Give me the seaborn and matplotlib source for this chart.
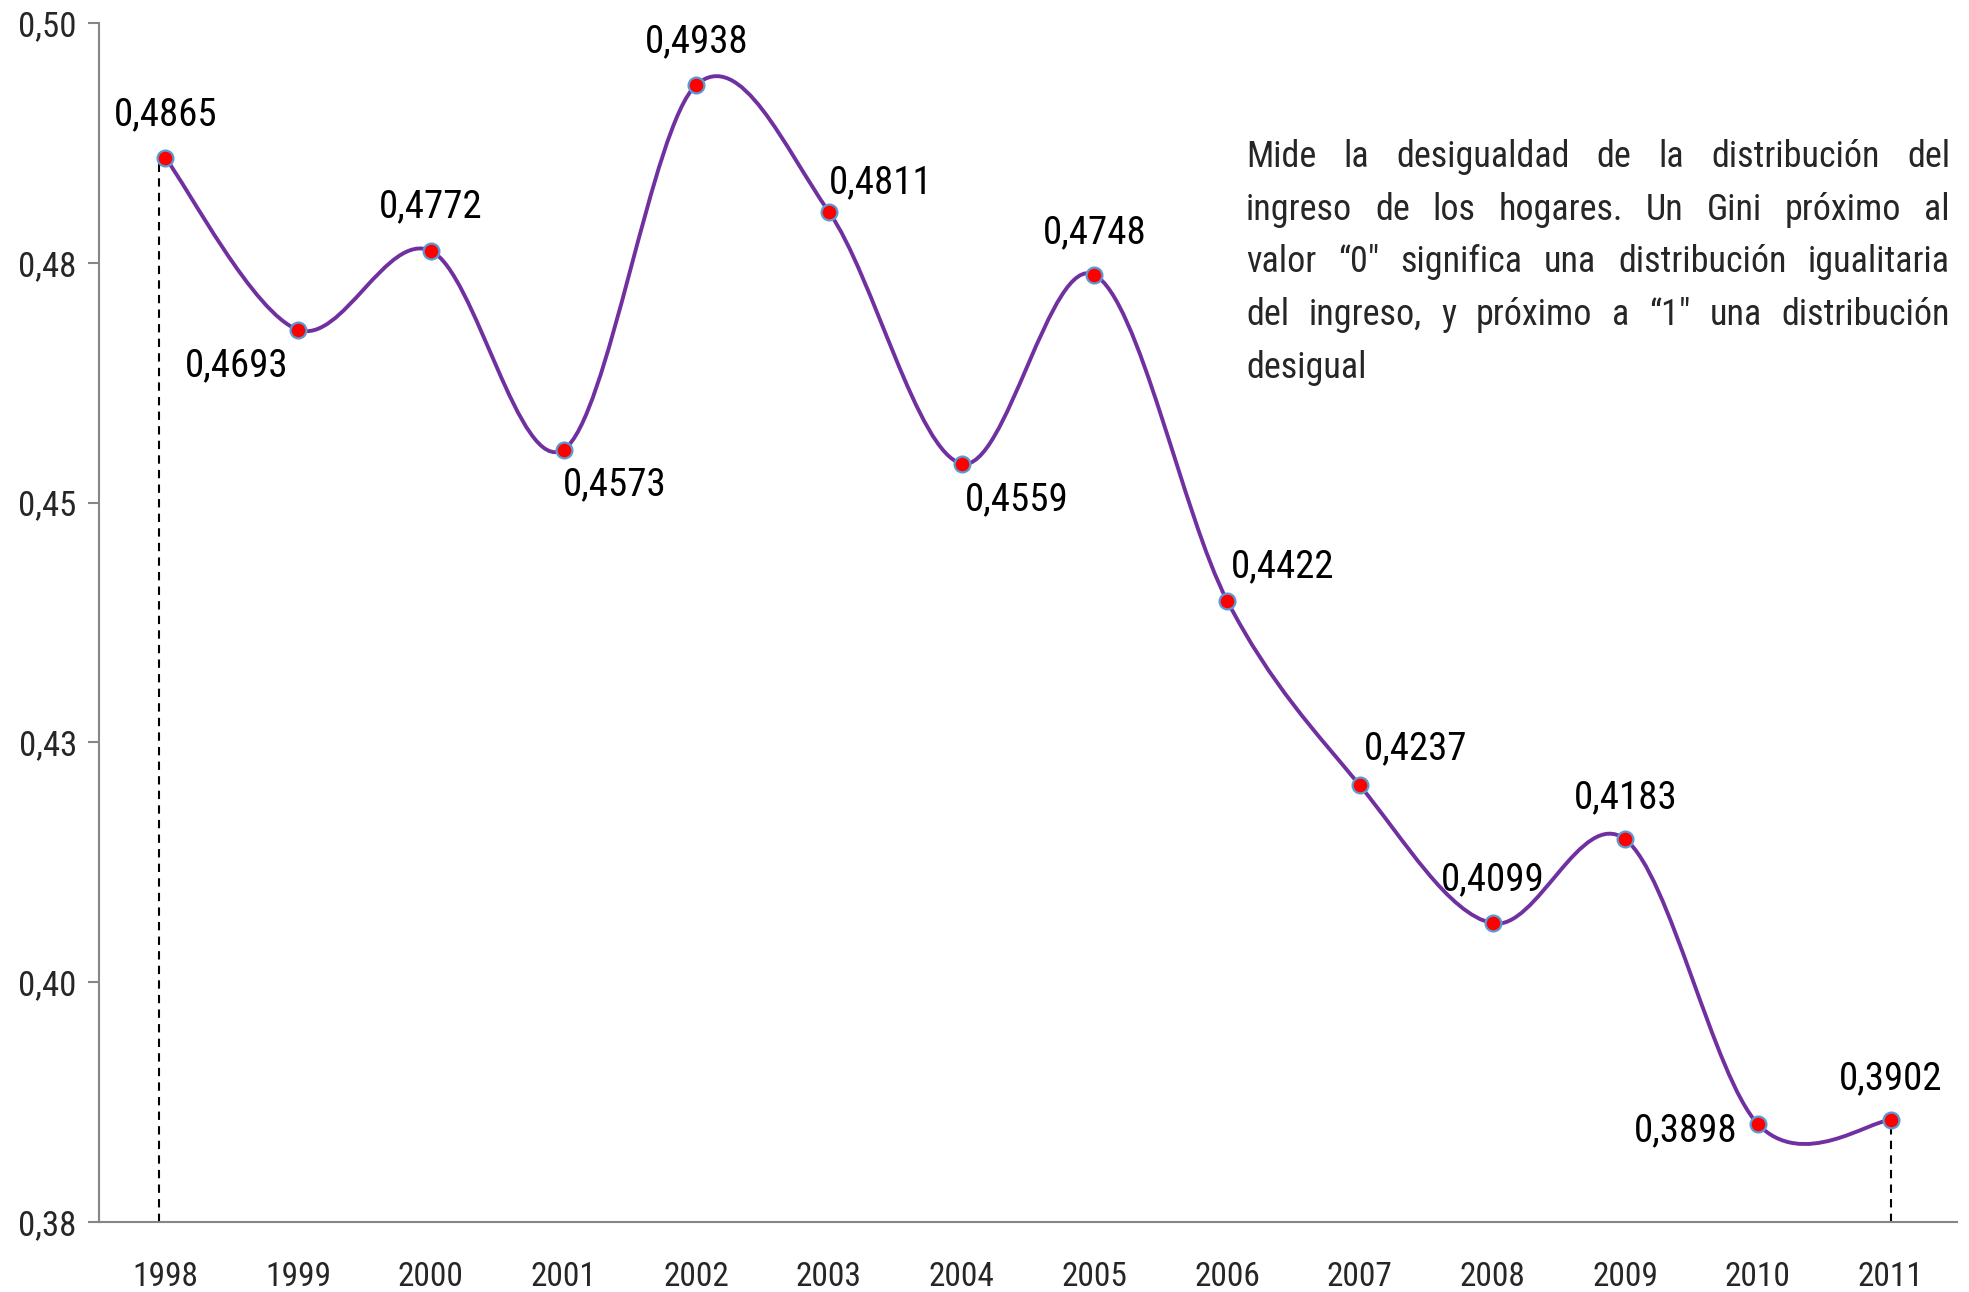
import numpy as np
import matplotlib
matplotlib.use('Agg')
import matplotlib.pyplot as plt
from matplotlib.path import Path
from matplotlib.patches import PathPatch
import seaborn as sns

# Coeficiente de Gini por año
years = ['1998', '1999', '2000', '2001', '2002', '2003', '2004',
         '2005', '2006', '2007', '2008', '2009', '2010', '2011']
gini = [0.4865, 0.4693, 0.4772, 0.4573, 0.4938, 0.4811, 0.4559,
        0.4748, 0.4422, 0.4237, 0.4099, 0.4183, 0.3898, 0.3902]
labels = [f"{v:.4f}".replace('.', ',') for v in gini]

# where each value label sits relative to its point (points)
label_offsets = [(0, 31), (-44, -26), (0, 32), (37, -25), (0, 31), (37, 21), (40, -26),
                 (0, 30), (40, 24), (40, 26), (0, 31), (0, 30), (-52, -5), (0, 30)]

yticks = np.linspace(0.38, 0.50, 6)

note_lines = ['Mide la desigualdad de la distribución del',
              'ingreso de los hogares. Un Gini próximo al',
              'valor \u201c0\u2033 significa una distribución igualitaria',
              'del ingreso, y próximo a \u201c1\u2033 una distribución',
              'desigual']

sns.set_style('white')
plt.rcParams['font.family'] = ['Roboto Condensed', 'Archivo Narrow', 'DejaVu Sans']

W, H = 1969, 1292
fig = plt.figure(figsize=(W / 100, H / 100), dpi=100)
ax = fig.add_axes([99 / W, 70 / H, (1957 - 99) / W, (1222 - 23) / H])

x = np.arange(len(gini))
pts = np.column_stack([x, gini])

# smoothed line (cubic bezier through the points, like the spreadsheet's "smooth line")
verts = [pts[0]]
codes = [Path.MOVETO]
n = len(pts)
for i in range(n - 1):
    p_prev = pts[max(i - 1, 0)]
    p0 = pts[i]
    p1 = pts[i + 1]
    p_next = pts[min(i + 2, n - 1)]
    c1 = p0 + (p1 - p_prev) / 6
    c2 = p1 - (p_next - p0) / 6
    verts += [c1, c2, p1]
    codes += [Path.CURVE4] * 3
ax.add_patch(PathPatch(Path(verts, codes), facecolor='none', edgecolor='#7030A0',
                       lw=2.8, zorder=3, capstyle='round'))

# drop lines at first and last year
ax.vlines([x[0] - 0.045, x[-1]], 0.38, [gini[0], gini[-1]], colors='black',
          linestyles=(0, (4, 3)), lw=1.5, zorder=2)

sns.scatterplot(x=x, y=gini, ax=ax, s=130, color='red', edgecolor='#5B9BD5',
                linewidth=1.6, zorder=4)

for xi, yi, lab, off in zip(x, gini, labels, label_offsets):
    ax.annotate(lab, (xi, yi), xytext=off, textcoords='offset points',
                ha='center', va='center', fontsize=28, color='black')

ax.set_xlim(-0.5, len(gini) - 0.5)
ax.set_ylim(0.38, 0.50)
ax.set_xticks(x)
ax.set_xticklabels(years, fontsize=24)
ax.set_xticks(np.arange(-0.5, len(gini), 1), minor=True)
ax.tick_params(axis='x', which='major', length=0, pad=28)
ax.tick_params(axis='x', which='minor', length=8, width=1.5, color='#868686', direction='out')
ax.set_yticks(yticks)
ax.set_yticklabels([f"{t:.2f}".replace('.', ',') for t in yticks], fontsize=25)
ax.tick_params(axis='y', length=8, width=1.5, color='#868686', direction='out', pad=8, left=True)

for s in ['top', 'right']:
    ax.spines[s].set_visible(False)
for s in ['left', 'bottom']:
    ax.spines[s].set_color('#868686')
    ax.spines[s].set_linewidth(1.5)

# justified note in the upper right
fig.canvas.draw()
r = fig.canvas.get_renderer()
x_left, x_right = 1246, 1950
for i, line in enumerate(note_lines):
    words = line.split()
    yb = (H - (167 + i * 52.7)) / H
    arts = [fig.text(0, yb, w, fontsize=26, va='baseline', ha='left') for w in words]
    widths = [a.get_window_extent(r).width for a in arts]
    if i < len(note_lines) - 1 and len(words) > 1:
        gap = (x_right - x_left - sum(widths)) / (len(words) - 1)
    else:
        gap = 7
    xp = x_left
    for a, wd in zip(arts, widths):
        a.set_x(xp / W)
        xp += wd + gap

fig.savefig('out.png', dpi=100)
